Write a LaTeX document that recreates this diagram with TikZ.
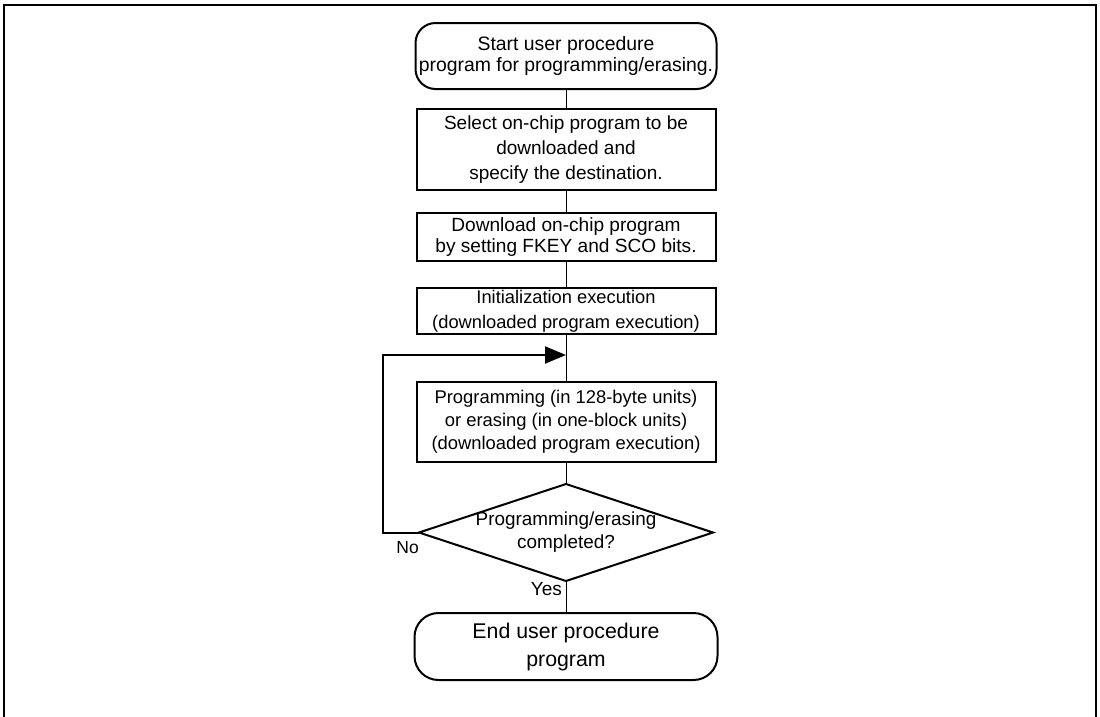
\documentclass[tikz,border=0pt]{standalone}
\usepackage{fontspec}
\setmainfont{Liberation Sans}
\usetikzlibrary{arrows.meta,positioning}

\begin{document}
\begin{tikzpicture}[
   x=1pt,y=-1pt,
   node distance=20pt,
   term/.style  ={draw,line width=2pt,outer sep=0pt,rounded corners=20pt,minimum width=301pt,minimum height=66pt,align=center,inner sep=0pt},
   proc/.style  ={draw,line width=2pt,outer sep=0pt,minimum width=299pt,align=center,inner sep=0pt},
   check/.style ={minimum width=294pt,minimum height=97pt,outer sep=0pt,align=center,inner sep=0pt},
   lbl/.style   ={inner sep=0pt,font=\fontsize{17.5}{20}\selectfont},
   fl/.style    ={draw,line width=1pt},
   back/.style  ={-{Triangle[length=21pt,width=17pt]},line width=2pt},
   frame/.style ={line width=2.5pt}
  ]
  \useasboundingbox (0,0) rectangle (1100,716);
  \draw[frame] (4,730) |- (1096,5) -- (1096,730);

  % main column
  \node[term,font=\fontsize{19.4}{20.7}\selectfont] (start) at (566,56) {Start user procedure\\program for programming/erasing.};
  \node[proc,minimum height=81pt,below=20pt of start,font=\fontsize{19}{25}\selectfont] (sel) {Select on-chip program to be\\downloaded and\\specify the destination.};
  \node[proc,minimum height=48pt,below=23pt of sel,font=\fontsize{19.1}{21.7}\selectfont] (dl) {Download on-chip program\\by setting FKEY and SCO bits.};
  \node[proc,minimum height=46pt,below=27pt of dl,font=\fontsize{18.3}{25}\selectfont] (ini) {Initialization execution\\(downloaded program execution)};
  \coordinate[below=21pt of ini] (join);
  \node[proc,minimum height=80pt,below=27pt of join,font=\fontsize{18.4}{23}\selectfont] (prog) {Programming (in 128-byte units)\\or erasing (in one-block units)\\(downloaded program execution)};
  \node[check,below=22pt of prog,font=\fontsize{18.9}{23}\selectfont] (chk) {Programming/erasing\\completed?};
  \draw[line width=2pt] (chk.north) -- (chk.east) -- (chk.south) -- (chk.west) -- cycle;
  \node[term,rounded corners=24pt,minimum width=303pt,minimum height=67pt,below=32pt of chk,font=\fontsize{21.3}{28}\selectfont] (stop) {End user procedure\\program};

  % labels
  \node[lbl,anchor=north east] (no) at ([yshift=-9pt]chk.west) {No};
  \node[lbl,anchor=north east,font=\fontsize{19}{20}\selectfont] (yes) at ([xshift=-4pt,yshift=-1pt]chk.south) {Yes};

  \draw[fl] (start) -- (sel);
  \draw[fl] (sel) -- (dl);
  \draw[fl] (dl) -- (ini);
  \draw[fl] (ini) -- (prog);
  \draw[fl] (prog) -- (chk.north);
  \draw[fl] (chk.south) -- (stop);
  \draw[back] (chk.west) -- ++(-36,0) |- (join);
\end{tikzpicture}
\end{document}
